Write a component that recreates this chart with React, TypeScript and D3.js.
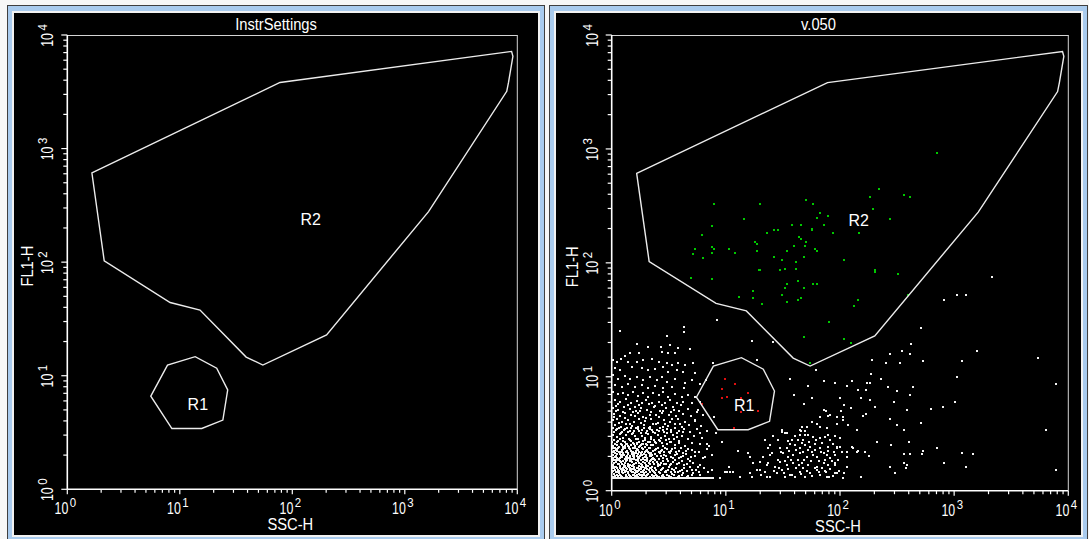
import React from "react";
import * as d3 from "d3";

// FACS log amplifier: 1024 channels over 4 decades
const CH_PER_DECADE = 256;
const decades = [1, 10, 100, 1000, 10000];
const exponents = ["0", "1", "2", "3", "4"];
const panelTitles = ["InstrSettings", "v.050"];
const xTitle = "SSC-H";
const yTitle = "FL1-H";

// gates, [SSC-H channel, FL1-H channel]
const gateR1 = [[190, 210], [228, 280], [291, 299], [340, 273], [365, 224], [354, 156], [306, 137], [238, 137]];
const gateR2 = [
  [56, 713], [484, 917], [1011, 987], [1014, 976], [1004, 917], [1000, 897], [822, 626],
  [590, 348], [445, 280], [407, 298], [302, 404], [234, 421], [84, 515],
];
const gateNames = ["R1", "R2"];
const gateLabelPos = [[297, 193], [554, 609]];

// events falling in R1 (red)
const eventsR1 = [
  [254, 250], [277, 240], [247, 228], [306, 220], [247, 208], [258, 211], [289, 208],
  [289, 177], [329, 180], [274, 140], [203, 195],
];

// events falling in R2 (green)
const eventsR2 = [
  [730, 759], [600, 677], [580, 661], [656, 665], [668, 661], [585, 633], [624, 610], [436, 653],
  [452, 645], [468, 625], [460, 613], [484, 618], [229, 645], [333, 645], [297, 610], [226, 594],
  [405, 597], [425, 597], [476, 597], [365, 586], [373, 586], [449, 589], [449, 585], [349, 578],
  [496, 578], [555, 578], [202, 574], [420, 570], [425, 566], [436, 558], [321, 558], [325, 554],
  [409, 550], [433, 550], [186, 542], [226, 547], [229, 542], [262, 542], [456, 542], [460, 538],
  [325, 538], [393, 538], [182, 531], [226, 535], [277, 535], [205, 523], [365, 526], [432, 526],
  [381, 519], [413, 515], [520, 519], [330, 495], [333, 495], [377, 495], [389, 499], [413, 499],
  [591, 495], [591, 491], [643, 487], [178, 479], [226, 475], [417, 472], [393, 464], [452, 464],
  [460, 464], [389, 455], [432, 455], [318, 448], [381, 440], [286, 436], [318, 432], [425, 432],
  [417, 428], [393, 424], [337, 420], [552, 428], [544, 416], [488, 380], [664, 440], [432, 346],
  [520, 341], [536, 333], [445, 286],
];

// ungated events (white)
const eventsOther = [
  // upper tail of the low cluster
  [19, 358], [123, 348], [162, 367], [162, 356], [237, 383],
  [56, 330], [82, 322], [110, 323], [130, 328], [149, 320], [176, 318], [41, 310], [62, 309],
  [112, 311], [127, 309], [143, 309], [30, 303], [227, 287], [314, 337], [361, 334], [325, 294],
  [4, 294], [11, 290], [21, 295], [37, 290], [56, 290], [71, 294], [90, 295], [105, 290], [123, 287],
  [135, 282], [149, 287], [164, 282], [183, 287], [7, 275], [19, 271], [45, 278], [67, 275], [82, 271],
  [97, 273], [116, 278], [127, 267], [146, 271], [161, 267], [187, 265],
  [4, 260], [15, 252], [30, 258], [41, 250], [56, 256], [71, 249], [86, 255], [101, 249], [112, 256],
  [123, 245], [142, 250], [164, 241], [179, 249], [7, 237], [22, 234], [37, 240], [52, 234], [67, 237],
  [82, 230], [97, 235], [116, 230], [135, 234], [163, 230], [198, 240], [211, 249],
  [4, 222], [15, 217], [26, 220], [37, 215], [48, 222], [60, 213], [71, 219], [82, 211], [93, 220],
  [105, 215], [116, 222], [127, 211], [142, 217], [157, 211], [172, 215], [187, 210], [7, 204],
  [19, 200], [31, 205], [43, 198], [56, 202], [67, 196], [78, 204], [90, 198], [105, 200], [120, 196],
  [131, 204], [146, 198], [161, 200], [179, 196], [198, 200], [10, 190], [52, 189], [97, 190], [138, 189],
  [15, 195], [36, 193], [62, 192], [84, 194], [112, 192], [155, 193],
  // body of the low cluster
  [3, 185], [14, 181], [27, 187], [40, 183], [55, 180], [66, 186], [80, 182], [95, 187], [108, 179],
  [122, 185], [139, 182], [152, 178], [170, 184], [193, 181], [6, 172], [18, 168], [30, 175], [44, 170],
  [58, 174], [71, 166], [85, 171], [99, 169], [113, 175], [128, 170], [144, 167], [160, 173], [178, 168],
  [205, 171], [230, 166], [2, 158], [12, 161], [24, 155], [36, 159], [49, 154], [62, 161], [75, 156],
  [89, 160], [103, 153], [117, 159], [131, 155], [148, 160], [165, 154], [186, 157], [8, 147], [20, 144],
  [33, 149], [46, 145], [59, 143], [73, 148], [86, 144], [100, 149], [114, 143], [127, 146], [141, 150],
  [157, 144], [174, 148], [200, 145],
  [5, 165], [17, 152], [29, 163], [41, 150], [53, 167], [65, 152], [78, 164], [92, 151], [106, 165],
  [120, 150], [136, 162], [154, 151], [10, 178], [25, 176], [47, 177], [63, 178], [88, 176], [116, 178],
  [133, 176],
  [2, 141], [9, 136], [16, 142], [23, 133], [30, 139], [37, 131], [44, 140], [51, 134], [58, 138],
  [65, 130], [72, 141], [79, 135], [86, 139], [93, 132], [101, 137], [109, 141], [117, 133], [125, 138],
  [134, 131], [143, 140], [152, 134], [163, 138], [176, 132], [191, 139], [214, 135],
  [6, 132], [13, 138], [20, 130], [27, 136], [34, 142], [41, 135], [48, 129], [55, 141], [62, 134],
  [69, 137], [76, 130], [83, 142], [90, 136], [98, 129], [106, 134], [115, 137], [123, 129], [132, 136],
  [146, 129], [160, 131],
  [4, 126], [11, 121], [18, 128], [25, 119], [32, 125], [39, 117], [46, 127], [53, 122], [60, 116],
  [67, 124], [74, 119], [81, 127], [88, 121], [95, 115], [103, 125], [111, 118], [119, 123], [128, 116],
  [137, 126], [147, 120], [158, 124], [170, 117], [184, 122], [203, 119],
  [5, 115], [12, 109], [19, 117], [26, 112], [33, 105], [40, 114], [47, 108], [54, 116], [61, 110],
  [68, 104], [75, 115], [82, 110], [89, 116], [97, 109], [105, 115], [113, 107], [121, 114], [130, 109],
  [140, 116], [150, 112],
  [1, 110], [8, 106], [15, 112], [22, 103], [29, 109], [36, 101], [43, 111], [50, 104], [57, 108],
  [64, 100], [71, 112], [78, 105], [85, 109], [92, 102], [100, 107], [108, 111], [116, 101], [124, 106],
  [133, 110], [142, 103], [152, 108], [165, 101], [180, 107], [197, 104], [219, 100],
  [2, 100], [7, 97], [11, 102], [16, 99], [21, 104], [25, 98], [30, 101], [34, 105], [39, 99], [43, 103],
  [48, 97], [52, 101], [57, 104], [61, 98], [66, 102], [70, 106], [75, 99], [79, 103], [84, 97], [88, 102],
  [3, 96], [9, 91], [14, 97], [20, 88], [26, 94], [32, 86], [38, 95], [44, 90], [50, 85], [56, 93],
  [62, 88], [68, 96], [74, 87], [80, 92], [86, 97], [92, 89], [99, 94], [106, 86], [113, 91], [120, 96],
  [128, 88], [136, 93], [145, 86], [155, 95], [166, 89], [179, 92], [195, 87], [214, 94],
  [6, 89], [12, 93], [17, 86], [23, 91], [29, 96], [35, 89], [41, 93], [47, 87], [53, 96], [59, 91],
  [65, 85], [71, 93], [77, 89], [83, 95], [89, 85], [96, 91], [103, 96], [110, 89], [117, 86], [124, 93],
  [132, 90], [141, 96], [150, 90], [160, 85], [172, 94],
  [3, 86], [8, 84], [13, 89], [18, 83], [22, 87], [27, 81], [31, 88], [36, 84], [41, 79], [45, 86],
  [50, 81], [55, 89], [60, 83], [64, 79], [69, 87], [73, 83], [78, 80], [82, 88], [87, 82], [91, 80],
  [2, 81], [7, 76], [12, 83], [18, 74], [23, 80], [29, 72], [34, 79], [40, 75], [45, 82], [51, 71],
  [57, 78], [62, 73], [68, 81], [74, 76], [80, 70], [86, 79], [92, 74], [98, 82], [105, 72], [111, 77],
  [118, 81], [125, 71], [133, 76], [141, 80], [150, 73], [160, 78], [172, 71], [186, 77], [205, 74], [224, 80],
  [4, 73], [10, 79], [15, 71], [21, 77], [26, 84], [31, 76], [37, 82], [42, 71], [48, 78], [54, 84],
  [59, 75], [65, 83], [71, 72], [77, 79], [83, 85], [89, 77], [95, 71], [102, 79], [108, 84], [115, 74],
  [122, 78], [130, 84], [138, 73], [146, 82], [155, 76], [166, 83], [178, 75],
  [2, 70], [7, 68], [12, 73], [17, 69], [22, 75], [26, 67], [31, 71], [36, 74], [41, 66], [45, 72],
  [50, 75], [55, 69], [60, 72], [65, 68], [70, 74], [75, 69], [80, 73], [85, 67], [90, 71],
  [1, 66], [6, 62], [11, 68], [16, 59], [21, 64], [27, 57], [32, 66], [37, 61], [43, 68], [48, 58],
  [54, 63], [59, 67], [65, 60], [71, 65], [77, 58], [83, 63], [89, 68], [95, 59], [101, 64], [108, 58],
  [115, 66], [122, 61], [130, 57], [138, 64], [147, 60], [157, 66], [168, 59], [182, 63], [199, 58],
  [4, 58], [9, 64], [14, 61], [19, 67], [24, 60], [30, 63], [35, 69], [40, 58], [46, 64], [51, 60],
  [57, 68], [62, 62], [68, 57], [74, 63], [80, 66], [86, 60], [92, 64], [98, 69], [104, 61], [111, 63],
  [118, 59], [126, 67], [134, 60], [143, 68], [152, 63], [163, 58], [175, 66],
  [2, 55], [6, 50], [10, 54], [14, 47], [18, 52], [22, 45], [26, 51], [30, 56], [34, 48], [38, 53],
  [42, 46], [46, 55], [50, 49], [54, 44], [58, 52], [62, 47], [66, 54], [70, 45], [74, 50], [78, 55],
  [83, 47], [88, 52], [93, 44], [98, 50], [104, 55], [110, 46], [116, 51], [122, 45], [129, 53],
  [136, 48], [144, 52], [153, 45], [163, 50], [175, 54], [189, 47], [206, 52], [226, 46],
  [3, 50], [8, 53], [13, 51], [18, 56], [23, 49], [28, 53], [32, 50], [37, 56], [41, 51], [46, 49],
  [51, 54], [56, 50], [61, 55], [66, 49], [71, 53], [76, 51], [81, 56], [86, 50], [91, 54],
  [3, 45], [8, 47], [12, 42], [16, 44], [20, 48], [24, 43], [28, 47], [32, 44], [36, 42], [40, 48],
  [44, 44], [48, 43], [52, 47], [56, 42], [60, 45], [64, 49], [68, 42], [72, 46], [76, 43], [80, 48],
  [85, 43], [90, 47], [95, 42], [100, 46], [106, 43], [112, 48], [119, 43], [126, 47], [133, 43],
  [140, 46], [149, 43], [158, 47], [168, 44], [180, 47], [195, 43],
  [1, 41], [5, 37], [9, 43], [13, 35], [17, 40], [21, 33], [25, 39], [29, 42], [33, 34], [37, 39],
  [41, 32], [45, 41], [49, 36], [53, 40], [57, 33], [61, 38], [65, 43], [69, 35], [73, 40], [77, 32],
  [82, 38], [87, 42], [92, 34], [97, 39], [102, 33], [108, 40], [114, 35], [121, 41], [128, 33],
  [135, 38], [143, 42], [152, 34], [161, 39], [171, 33], [183, 40], [198, 36], [215, 41],
  [3, 31], [7, 34], [15, 32], [19, 36], [24, 31], [31, 35], [35, 30], [39, 36], [44, 31], [47, 35],
  [52, 32], [56, 36], [60, 31], [64, 35], [68, 32], [72, 36], [76, 30], [80, 35], [85, 31], [90, 36],
  [95, 32], [100, 36], [105, 30], [112, 34], [118, 31], [125, 36], [132, 30], [140, 35], [148, 31],
  [158, 35], [168, 30], [180, 35],
  // events piled on the FL1 floor
  [0, 28], [3, 28], [8, 28], [12, 28], [17, 28], [21, 28], [25, 28], [30, 28], [34, 28], [39, 28],
  [43, 28], [48, 28], [52, 28], [57, 28], [61, 28], [65, 28], [70, 28], [74, 28], [79, 28], [83, 28],
  [88, 28], [92, 28], [97, 28], [101, 28], [106, 28], [110, 28], [114, 28], [119, 28], [124, 28],
  [128, 28], [133, 28], [137, 28], [142, 28], [146, 28], [151, 28], [155, 28], [160, 28], [164, 28],
  [169, 28], [174, 28], [178, 28], [183, 28], [187, 28], [192, 28], [196, 28], [201, 28], [205, 28],
  [210, 28], [214, 28], [219, 28], [223, 28], [227, 28],
  [191, 177], [187, 159], [198, 129], [213, 106], [187, 88], [209, 76], [224, 46], [194, 54],
  [235, 129], [247, 110], [306, 84], [314, 31], [333, 46], [348, 58],
  // second cluster (high SSC, low FL1)
  [426, 144], [439, 144], [467, 144], [482, 140], [505, 151], [519, 159], [531, 148], [550, 136],
  [381, 133], [393, 129], [422, 125], [434, 125], [441, 125], [452, 121], [467, 118], [478, 121],
  [490, 114], [501, 123], [512, 118], [404, 114], [417, 115], [430, 114], [443, 110],
  [377, 95], [393, 97], [400, 106], [411, 103], [422, 95], [434, 103], [445, 99], [456, 106], [467, 95],
  [486, 99], [505, 95], [512, 99], [542, 95], [351, 95],
  [340, 76], [355, 80], [385, 84], [396, 76], [407, 80], [422, 84], [437, 76], [449, 88], [460, 76],
  [475, 84], [482, 80], [490, 73], [501, 80], [527, 76], [550, 88],
  [318, 62], [333, 65], [351, 62], [366, 54], [377, 65], [393, 58], [407, 62], [419, 58], [426, 62],
  [441, 58], [460, 54], [475, 62], [486, 58], [501, 58], [527, 54],
  [288, 31], [310, 39], [325, 46], [348, 31], [355, 31], [370, 39], [381, 46], [389, 31], [400, 35],
  [411, 31], [422, 43], [434, 31], [445, 39], [460, 46], [467, 35], [482, 31], [501, 39], [519, 28],
  [258, 43], [265, 43], [243, 28], [284, 90], [310, 76], [262, 54], [254, 43], [273, 43], [344, 114],
  [374, 114], [355, 103],
  [372, 70], [380, 88], [388, 66], [398, 90], [403, 70], [414, 92], [418, 68], [428, 88], [432, 70],
  [440, 92], [447, 67], [452, 80], [456, 92], [464, 66], [470, 88], [478, 70], [485, 90], [494, 66],
  [498, 88], [508, 70], [516, 86], [360, 84], [364, 44], [375, 52], [386, 40], [396, 48], [404, 36],
  [414, 50], [425, 38], [430, 52], [438, 44], [450, 34], [455, 52], [465, 42], [472, 52], [478, 44],
  [490, 48], [497, 33], [510, 45], [520, 40], [343, 42], [335, 35], [395, 112], [410, 122], [426, 108],
  [458, 114], [472, 108], [485, 126], [497, 104], [362, 123],
  [422, 137], [467, 165], [505, 166], [519, 165], [460, 149], [475, 181], [486, 168], [425, 135],
  [434, 135], [381, 137], [389, 129], [449, 155], [481, 180], [490, 170], [514, 180], [449, 208],
  [432, 195], [409, 216], [441, 235], [400, 250], [458, 271],
  // scattered high-SSC events
  [746, 428], [774, 440], [794, 440], [694, 365], [819, 314], [957, 298], [786, 291], [699, 291],
  [671, 330], [651, 314], [668, 307], [624, 307], [647, 287], [615, 287], [584, 294], [774, 255],
  [997, 239], [675, 234], [620, 234], [639, 223], [668, 216], [581, 262], [604, 251], [580, 243],
  [572, 243], [540, 247], [500, 243], [476, 247], [528, 235], [552, 227], [571, 227], [560, 208],
  [579, 204], [512, 208], [633, 200], [663, 181], [715, 184], [744, 188], [771, 200], [591, 188],
  [536, 185], [520, 192], [564, 168], [571, 172], [624, 160], [639, 148], [694, 153], [655, 137],
  [973, 137], [596, 109], [627, 102], [667, 109], [730, 97], [698, 90], [695, 82], [655, 82],
  [668, 82], [786, 85], [810, 82], [576, 78], [567, 86], [552, 90], [540, 98], [528, 86], [513, 98],
  [505, 98], [997, 46], [746, 62], [794, 54], [624, 54], [635, 39], [659, 50], [663, 58], [656, 62],
  [560, 31], [500, 62], [505, 39], [481, 43], [488, 31], [853, 480],
];

const panels = [
  { frame: [7, 545], plot: { x0: 67.3, x1: 517.3, y0: 489.3, y1: 35 }, events: false },
  { frame: [549, 1088], plot: { x0: 611.7, x1: 1068.3, y0: 490.7, y1: 35 }, events: true },
];

const FONT = "'Liberation Sans', Arial, Helvetica, sans-serif";
const toValue = (ch: number) => Math.pow(10, ch / CH_PER_DECADE);

function DotPlot({ index }: { index: number }) {
  const { frame, plot, events } = panels[index];
  const [l, r] = frame;
  const x = d3.scaleLog().domain([decades[0], decades[4]]).range([plot.x0, plot.x1]);
  const y = d3.scaleLog().domain([decades[0], decades[4]]).range([plot.y0, plot.y1]);
  const px = (c: number) => x(toValue(c));
  const py = (c: number) => y(toValue(c));
  const gatePath = d3
    .line<number[]>()
    .x((d) => px(d[0]))
    .y((d) => py(d[1]))
    .curve(d3.curveLinearClosed);
  const ticks = x.ticks();
  const isMajor = (t: number) => Math.abs(Math.log10(t) - Math.round(Math.log10(t))) < 1e-9;
  const blackL = l + 7;
  const blackR = r - 7;
  const midPanel = (blackL + blackR) / 2;

  const dots = (list: number[][], color: string) =>
    list.map((d, i) => (
      <rect key={color + i} x={Math.round(px(d[0])) - 1} y={Math.round(py(d[1])) - 1} width={2} height={2} fill={color} />
    ));

  return (
    <g>
      <rect x={l + 0.5} y={5.5} width={r - l - 1} height={560} fill="#a9cbee" stroke="#3f3f3f" />
      <rect x={l + 5} y={11} width={r - l - 10} height={526} fill="#f2f2f2" />
      <rect x={blackL} y={13} width={blackR - blackL} height={522} fill="#000" />

      <text x={0} y={0} transform={`translate(${midPanel},30) scale(0.92,1)`} textAnchor="middle" fill="#fff" fontSize={16} fontFamily={FONT}>
        {panelTitles[index]}
      </text>

      {/* plot box */}
      <line x1={plot.x0} x2={plot.x1} y1={plot.y1 + 0.5} y2={plot.y1 + 0.5} stroke="#d4d4d4" strokeWidth={1} />
      <line x1={plot.x1} x2={plot.x1} y1={plot.y1} y2={plot.y0} stroke="#d4d4d4" strokeWidth={1} />
      <line x1={plot.x0} x2={plot.x1} y1={plot.y0} y2={plot.y0} stroke="#fff" strokeWidth={1.6} />
      <line x1={plot.x0} x2={plot.x0} y1={plot.y1} y2={plot.y0} stroke="#fff" strokeWidth={1.6} />

      {ticks.map((t, i) => (
        <g key={"t" + i}>
          <line x1={x(t)} x2={x(t)} y1={plot.y0} y2={plot.y0 + (isMajor(t) ? 5 : 3.5)} stroke="#fff" strokeWidth={1.2} />
          <line x1={plot.x0 - (isMajor(t) ? 6 : 4)} x2={plot.x0} y1={y(t)} y2={y(t)} stroke="#fff" strokeWidth={1.2} />
        </g>
      ))}

      {decades.map((t, i) => (
        <g key={"xl" + i} fill="#fff" fontFamily={FONT}>
          <text transform={`translate(${x(t) + 1},${plot.y0 + 25}) scale(0.75,1)`} textAnchor="end" fontSize={16.5}>10</text>
          <text transform={`translate(${x(t) + 2.5},${plot.y0 + 18}) scale(0.85,1)`} textAnchor="start" fontSize={13.5}>{exponents[i]}</text>
        </g>
      ))}
      {decades.map((t, i) => (
        <g key={"yl" + i} fill="#fff" fontFamily={FONT} transform={`translate(${plot.x0 - 14},${y(t) - 2}) rotate(-90)`}>
          <text transform="scale(0.75,1)" textAnchor="end" fontSize={16.5}>10</text>
          <text transform="translate(2.5,-6) scale(0.85,1)" textAnchor="start" fontSize={13.5}>{exponents[i]}</text>
        </g>
      ))}

      <text transform={`translate(${(plot.x0 + plot.x1) / 2 - 2},${plot.y0 + 41}) scale(0.92,1)`} textAnchor="middle" fill="#fff" fontSize={16} fontFamily={FONT}>
        {xTitle}
      </text>
      <text transform={`translate(${plot.x0 - 34},${(plot.y0 + plot.y1) / 2 + 4}) rotate(-90) scale(0.92,1)`} textAnchor="middle" fill="#fff" fontSize={16} fontFamily={FONT}>
        {yTitle}
      </text>

      {events && dots(eventsOther, "#f4f4f4")}
      {events && dots(eventsR2, "#00c800")}
      {events && dots(eventsR1, "#e01010")}

      {[gateR1, gateR2].map((g, i) => (
        <path key={"g" + i} d={gatePath(g) || ""} fill="none" stroke="#ececec" strokeWidth={1.4} />
      ))}
      {gateNames.map((n, i) => (
        <text key={n} x={px(gateLabelPos[i][0])} y={py(gateLabelPos[i][1]) + 6} textAnchor="middle" fill="#fff" fontSize={16} fontFamily={FONT}>
          {n}
        </text>
      ))}
    </g>
  );
}

export default function App() {
  return (
    <svg width={1089} height={539} style={{ position: "fixed", left: 0, top: 0, background: "#f7f7f7" }}>
      {panels.map((p, i) => (
        <DotPlot key={i} index={i} />
      ))}
    </svg>
  );
}
